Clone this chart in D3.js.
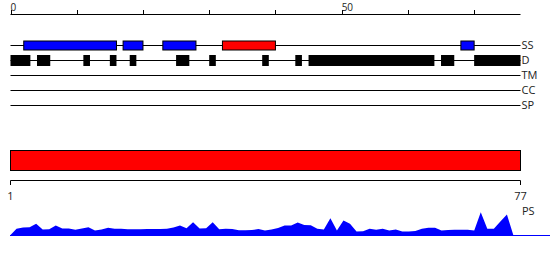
<!DOCTYPE html>
<html>
<head>
<meta charset="utf-8">
<script src="https://cdn.jsdelivr.net/npm/d3@7"></script>
<style>
  body { margin: 0; background: #fff; }
  svg { display: block; font-family: "Open Sans", sans-serif; font-size: 11px; }
</style>
</head>
<body>
<svg id="chart" width="550" height="260"></svg>
<script>
// data
const seqLen = 77;
const topTicks = [0, 10, 20, 30, 40, 50, 60, 70];
const topLabels = [0, 50];
const tracks = ["SS", "D", "TM", "CC", "SP"];
// [start, end, kind]
const ssSegs = [[2, 16, "b"], [17, 20, "b"], [23, 28, "b"], [32, 40, "r"], [68, 70, "b"]];
const dSegs = [[0, 3], [4, 6], [11, 12], [15, 16], [18, 19], [25, 27], [30, 31], [38, 39],
               [43, 44], [45, 64], [65, 67], [70, 77]];
const fullBar = [0, 77];
const psLabels = [1, 77];
const psValues = [0, 6.7, 8, 8.3, 11.7, 6, 6.3, 10, 7, 7, 5.7, 7, 8.3, 5, 6, 7.7, 6.7, 6.7, 6.3, 6.3,
  6.3, 6.5, 6.5, 6.5, 6.7, 8, 10, 7.3, 13.3, 7, 7.3, 13.3, 6.3, 6.7, 6.5, 5.3, 5.3, 5.5, 6.5, 5,
  6, 7.5, 10, 10, 13, 10.5, 10.3, 6.7, 6, 17.3, 5, 15, 11.7, 4, 4.3, 6.7, 5.7, 6.7, 5, 6,
  4, 4, 4.5, 6.7, 7.7, 7.7, 5, 5.5, 5.7, 5.7, 5.7, 5, 23.3, 6.7, 6.7, 14, 21, 0];

const svg = d3.select("#chart");
const x = d3.scaleLinear().domain([0, seqLen]).range([10.5, 520.5]);
const y = d3.scalePoint().domain(tracks).range([45, 105]);

// top axis
const gTop = svg.append("g");
gTop.append("line").attr("x1", x(0)).attr("x2", x(seqLen)).attr("y1", 14.5).attr("y2", 14.5)
  .attr("stroke", "#000");
gTop.selectAll(".tk").data(topTicks).join("line")
  .attr("x1", d => Math.round(x(d)) + 0.5).attr("x2", d => Math.round(x(d)) + 0.5)
  .attr("y1", 10).attr("y2", 14.5).attr("stroke", "#000");
gTop.selectAll("text").data(topLabels).join("text")
  .attr("x", d => x(d)).attr("y", 10.5).style("font-size", "10px").text(d => d).attr("fill", "#222");

// tracks
svg.selectAll(".trk").data(tracks).join("line")
  .attr("x1", x(0)).attr("x2", x(seqLen))
  .attr("y1", d => y(d) + 0.5).attr("y2", d => y(d) + 0.5).attr("stroke", "#000");
svg.selectAll(".lbl").data(tracks).join("text")
  .attr("x", x(seqLen) + 1).attr("y", d => y(d)).attr("dy", "0.35em").text(d => d)
  .attr("fill", "#222");

svg.selectAll(".ss").data(ssSegs).join("rect")
  .attr("x", d => x(d[0])).attr("width", d => x(d[1]) - x(d[0]))
  .attr("y", y("SS") - 4).attr("height", 9)
  .attr("fill", d => d[2] === "r" ? "#ff0000" : "#0000ff").attr("stroke", "#000");

svg.selectAll(".dd").data(dSegs).join("rect")
  .attr("x", d => x(d[0])).attr("width", d => x(d[1]) - x(d[0]))
  .attr("y", y("D") - 5).attr("height", 11).attr("fill", "#000");

// full-length bar
svg.append("rect").attr("x", x(fullBar[0])).attr("width", x(fullBar[1]) - x(fullBar[0]))
  .attr("y", 150.5).attr("height", 20).attr("fill", "#ff0000").attr("stroke", "#000");

// bottom axis
svg.append("line").attr("x1", x(0)).attr("x2", x(seqLen)).attr("y1", 180.5).attr("y2", 180.5)
  .attr("stroke", "#000");
svg.selectAll(".bt").data(psLabels).join("line")
  .attr("x1", (d, i) => x(i ? seqLen : 0)).attr("x2", (d, i) => x(i ? seqLen : 0))
  .attr("y1", 180.5).attr("y2", 185).attr("stroke", "#000");
svg.selectAll(".btl").data(psLabels).join("text")
  .attr("x", (d, i) => x(i ? seqLen : 0)).attr("y", 200).attr("text-anchor", "middle")
  .text(d => d).attr("fill", "#222");

// PS area
const xa = d3.scaleLinear().domain([0, psValues.length]).range([10, 520]);
const ya = d3.scaleLinear().domain([0, 25]).range([235.5, 210.5]);
svg.append("path").datum(psValues)
  .attr("d", d3.area().x((d, i) => xa(i)).y0(ya(0)).y1(d => ya(d)))
  .attr("fill", "#0000ff");
svg.append("line").attr("x1", 10).attr("x2", 550).attr("y1", ya(0)).attr("y2", ya(0))
  .attr("stroke", "#0000ff");
svg.append("text").attr("x", 522).attr("y", 215).text("PS").attr("fill", "#222");
</script>
</body>
</html>
